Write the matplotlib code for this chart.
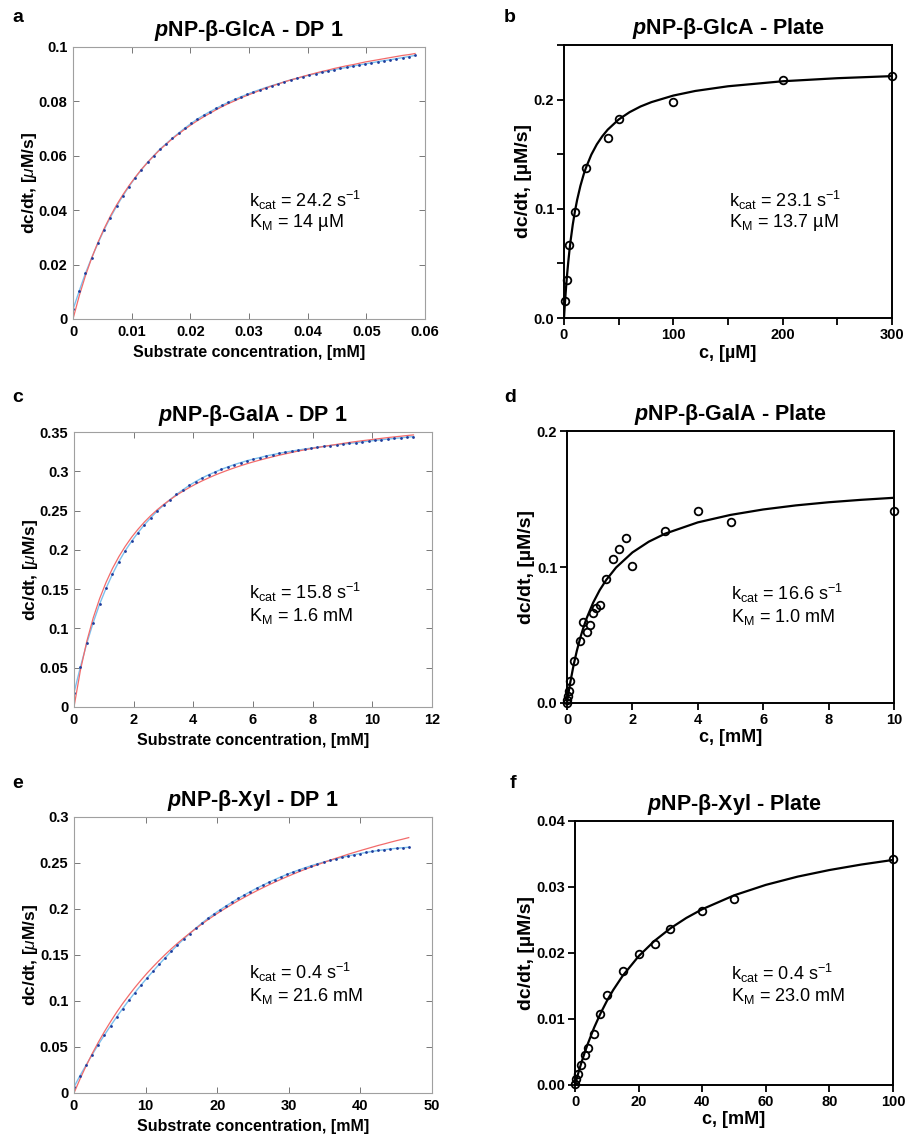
#!/usr/bin/env python3

import matplotlib
matplotlib.use("Agg")
import matplotlib.pyplot as plt
from matplotlib.ticker import FixedLocator, FuncFormatter


# fonts: Arial-like everywhere, custom mathtext so subscripts stay in the same face
plt.rcParams['font.family'] = ['Liberation Sans', 'DejaVu Sans']
plt.rcParams['mathtext.fontset'] = 'custom'
plt.rcParams['mathtext.rm'] = 'Liberation Sans'
plt.rcParams['mathtext.it'] = 'Liberation Sans:italic'
plt.rcParams['mathtext.bf'] = 'Liberation Sans:bold'
plt.rcParams['mathtext.bfit'] = 'Liberation Sans:bold:italic'


""" Data read off the figure """
# a : pNP-b-GlcA, DP 1 (progress-curve derived rates + MM fit)
a_conc = [0, 0.00106, 0.00212, 0.00318, 0.00424, 0.0053, 0.00636, 0.00742, 0.00848, 0.00954,
          0.0106, 0.01166, 0.01272, 0.01378, 0.01484, 0.0159, 0.01696, 0.01802, 0.01908, 0.02014,
          0.0212, 0.02226, 0.02332, 0.02438, 0.02544, 0.0265, 0.02756, 0.02862, 0.02968, 0.03074,
          0.0318, 0.03286, 0.03392, 0.03498, 0.03604, 0.0371, 0.03816, 0.03922, 0.04028, 0.04134,
          0.0424, 0.04346, 0.04452, 0.04558, 0.04664, 0.0477, 0.04876, 0.04982, 0.05088, 0.05194,
          0.053, 0.05406, 0.05512, 0.05618, 0.05724, 0.0583]
a_rate = [0.0035, 0.0103, 0.0168, 0.0225, 0.0278, 0.0328, 0.0373, 0.0414, 0.0452, 0.0487,
          0.0519, 0.0549, 0.0576, 0.0601, 0.0625, 0.0645, 0.0665, 0.0684, 0.0702, 0.0719,
          0.0735, 0.0749, 0.0762, 0.0774, 0.0786, 0.0797, 0.0807, 0.0817, 0.0826, 0.0835,
          0.0843, 0.0851, 0.0858, 0.0865, 0.0872, 0.0879, 0.0885, 0.0891, 0.0897, 0.0902,
          0.0907, 0.0912, 0.0917, 0.0921, 0.0925, 0.0930, 0.0934, 0.0938, 0.0942, 0.0946,
          0.0950, 0.0953, 0.0957, 0.0961, 0.0965, 0.0969]
a_fit  = [0, 0.0085, 0.0159, 0.0224, 0.0281, 0.0332, 0.0378, 0.0419, 0.0456, 0.0490,
          0.0521, 0.0550, 0.0576, 0.0600, 0.0623, 0.0643, 0.0663, 0.0681, 0.0698, 0.0714,
          0.0729, 0.0743, 0.0756, 0.0769, 0.0781, 0.0792, 0.0802, 0.0813, 0.0822, 0.0831,
          0.0840, 0.0849, 0.0857, 0.0864, 0.0872, 0.0879, 0.0885, 0.0892, 0.0898, 0.0904,
          0.0910, 0.0915, 0.0921, 0.0926, 0.0931, 0.0935, 0.0940, 0.0945, 0.0949, 0.0953,
          0.0957, 0.0961, 0.0965, 0.0969, 0.0972, 0.0976]

# b : pNP-b-GlcA, plate assay
b_conc = [1, 2.5, 5, 10, 20, 40, 50, 100, 200, 300]
b_rate = [0.0159, 0.0352, 0.0667, 0.0970, 0.1373, 0.1645, 0.1820, 0.1980, 0.2177, 0.2214]
b_fit_conc = [0, 0.5, 1, 2, 3, 4, 5, 6, 8, 10, 12, 15, 18, 20, 25, 30, 35, 40, 50, 60,
              70, 80, 100, 120, 150, 200, 250, 300]
b_fit = [0, 0.0082, 0.0158, 0.0295, 0.0416, 0.0523, 0.0619, 0.0705, 0.0854, 0.0977,
         0.1081, 0.1210, 0.1315, 0.1374, 0.1496, 0.1590, 0.1664, 0.1725, 0.1818, 0.1885,
         0.1937, 0.1977, 0.2037, 0.2079, 0.2122, 0.2168, 0.2196, 0.2215]

# c : pNP-b-GalA, DP 1
c_conc = [0, 0.215, 0.429, 0.644, 0.859, 1.074, 1.288, 1.503, 1.718, 1.932,
          2.147, 2.362, 2.576, 2.791, 3.006, 3.221, 3.435, 3.650, 3.865, 4.079,
          4.294, 4.509, 4.723, 4.938, 5.153, 5.368, 5.582, 5.797, 6.012, 6.226,
          6.441, 6.656, 6.870, 7.085, 7.300, 7.515, 7.729, 7.944, 8.159, 8.373,
          8.588, 8.803, 9.017, 9.232, 9.447, 9.662, 9.876, 10.091, 10.306, 10.520,
          10.735, 10.950, 11.164, 11.379]
c_rate = [0.018, 0.051, 0.081, 0.1075, 0.131, 0.151, 0.169, 0.185, 0.199, 0.211,
          0.222, 0.232, 0.241, 0.2495, 0.257, 0.264, 0.2705, 0.2765, 0.282, 0.287,
          0.2915, 0.2955, 0.299, 0.3025, 0.3055, 0.3085, 0.311, 0.3135, 0.3155, 0.3175,
          0.3195, 0.3212, 0.3228, 0.3243, 0.3257, 0.327, 0.3283, 0.3295, 0.3306, 0.3317,
          0.3327, 0.3337, 0.3346, 0.3355, 0.3364, 0.3375, 0.3384, 0.3393, 0.3402, 0.341,
          0.3418, 0.3426, 0.3434, 0.3442]
c_fit  = [0, 0.0467, 0.0836, 0.1134, 0.1380, 0.1586, 0.1762, 0.1913, 0.2045, 0.2161,
          0.2263, 0.2355, 0.2437, 0.2511, 0.2578, 0.2639, 0.2695, 0.2746, 0.2793, 0.2837,
          0.2878, 0.2915, 0.2951, 0.2983, 0.3014, 0.3043, 0.3070, 0.3096, 0.3120, 0.3142,
          0.3164, 0.3184, 0.3204, 0.3222, 0.3240, 0.3257, 0.3273, 0.3288, 0.3302, 0.3316,
          0.3330, 0.3342, 0.3355, 0.3367, 0.3378, 0.3389, 0.3399, 0.3409, 0.3419, 0.3429,
          0.3438, 0.3446, 0.3455, 0.3463]

# d : pNP-b-GalA, plate assay
d_conc = [0, 0.01, 0.025, 0.05, 0.1, 0.2, 0.4, 0.5, 0.6, 0.7, 0.8, 0.9, 1.0,
          1.2, 1.4, 1.6, 1.8, 2.0, 3, 4, 5, 10]
d_rate = [0, 0.002, 0.005, 0.0085, 0.016, 0.031, 0.0456, 0.0596, 0.052, 0.057, 0.066,
          0.0695, 0.072, 0.0912, 0.1056, 0.1134, 0.1213, 0.1005, 0.1264, 0.1413, 0.1328, 0.1413]
d_fit_conc = [0, 0.05, 0.1, 0.2, 0.3, 0.4, 0.5, 0.6, 0.8, 1.0, 1.2, 1.5, 2, 2.5, 3,
              4, 5, 6, 7, 8, 9, 10]
d_fit = [0, 0.0079, 0.0151, 0.0277, 0.0383, 0.0474, 0.0553, 0.0623, 0.0738, 0.0830,
         0.0905, 0.0996, 0.1107, 0.1186, 0.1245, 0.1328, 0.1383, 0.1423, 0.1453, 0.1476,
         0.1494, 0.1509]

# e : pNP-b-Xyl, DP 1
e_conc = [0, 0.85, 1.7, 2.55, 3.4, 4.25, 5.1, 5.95, 6.8, 7.65,
          8.5, 9.35, 10.2, 11.05, 11.9, 12.75, 13.6, 14.45, 15.3, 16.15,
          17.0, 17.85, 18.7, 19.55, 20.4, 21.25, 22.1, 22.95, 23.8, 24.65,
          25.5, 26.35, 27.2, 28.05, 28.9, 29.75, 30.6, 31.45, 32.3, 33.15,
          34.0, 34.85, 35.7, 36.55, 37.4, 38.25, 39.1, 39.95, 40.8, 41.65,
          42.5, 43.35, 44.2, 45.05, 45.9, 46.75]
e_rate = [0.0065, 0.0190, 0.0305, 0.0418, 0.0527, 0.0630, 0.0730, 0.0826, 0.0918, 0.1006,
          0.1091, 0.1172, 0.1250, 0.1325, 0.1399, 0.1471, 0.1541, 0.1608, 0.1672, 0.1733,
          0.1791, 0.1846, 0.1898, 0.1946, 0.1991, 0.2034, 0.2075, 0.2115, 0.2153, 0.2190,
          0.2225, 0.2258, 0.2290, 0.2320, 0.2349, 0.2376, 0.2402, 0.2426, 0.2449, 0.2471,
          0.2491, 0.2510, 0.2528, 0.2545, 0.2561, 0.2576, 0.2590, 0.2603, 0.2615, 0.2626,
          0.2636, 0.2645, 0.2653, 0.2660, 0.2666, 0.2671]
e_fit  = [0, 0.0154, 0.0296, 0.0429, 0.0552, 0.0667, 0.0775, 0.0877, 0.0972, 0.1061,
          0.1146, 0.1226, 0.1302, 0.1373, 0.1441, 0.1506, 0.1568, 0.1627, 0.1683, 0.1736,
          0.1787, 0.1836, 0.1883, 0.1928, 0.1971, 0.2012, 0.2052, 0.2091, 0.2127, 0.2163,
          0.2197, 0.2230, 0.2262, 0.2293, 0.2322, 0.2351, 0.2379, 0.2406, 0.2432, 0.2457,
          0.2481, 0.2505, 0.2528, 0.2551, 0.2572, 0.2594, 0.2614, 0.2634, 0.2653, 0.2672,
          0.2691, 0.2708, 0.2726, 0.2743, 0.2759, 0.2776]

# f : pNP-b-Xyl, plate assay
f_conc = [0, 0.25, 1, 2, 3, 4, 6, 8, 10, 15, 20, 25, 30, 40, 50, 100]
f_rate = [0.0002, 0.0009, 0.0017, 0.0031, 0.0045, 0.0056, 0.0078, 0.0108, 0.0136, 0.0173,
          0.0198, 0.0214, 0.0236, 0.0264, 0.0282, 0.0342]
f_fit_conc = [0, 1, 2, 3, 4, 6, 8, 10, 12, 15, 20, 25, 30, 35, 40, 50, 60, 70, 80, 90, 100]
f_fit = [0, 0.00175, 0.00336, 0.00484, 0.00621, 0.00868, 0.01082, 0.01271, 0.01438, 0.01655,
         0.01951, 0.02184, 0.02374, 0.02531, 0.02663, 0.02873, 0.03032, 0.03157, 0.03257,
         0.03340, 0.0341]

# text
titles = ['GlcA - DP 1', 'GlcA - Plate', 'GalA - DP 1', 'GalA - Plate', 'Xyl - DP 1', 'Xyl - Plate']
letters = ['a', 'b', 'c', 'd', 'e', 'f']
kcat_txt = ['24.2', '23.1', '15.8', '16.6', '0.4', '0.4']
km_txt = ['14 µM', '13.7 µM', '1.6 mM', '1.0 mM', '21.6 mM', '23.0 mM']


""" Layout helpers (pixel boxes on a 907x1140 canvas) """
W, H = 907, 1140

def px_axes(fig, l, t, r, b):
  return fig.add_axes([l / W, 1 - b / H, (r - l) / W, (b - t) / H])


def matlab_style(ax, xmax, xstep, ymax, ystep):
  for s in ax.spines.values():
    s.set_color('#a0a0a0')
    s.set_linewidth(0.8)
  ax.set_xlim(0, xmax)
  ax.set_ylim(0, ymax)
  nx = int(round(xmax / xstep))
  ny = int(round(ymax / ystep))
  ax.xaxis.set_major_locator(FixedLocator([i * xstep for i in range(nx + 1)]))
  ax.yaxis.set_major_locator(FixedLocator([i * ystep for i in range(ny + 1)]))
  fmt = FuncFormatter(lambda v, p: '%g' % round(v, 6))
  ax.xaxis.set_major_formatter(fmt)
  ax.yaxis.set_major_formatter(fmt)
  ax.tick_params(direction='in', length=4, width=0.7, color='#777777',
                 top=True, right=True, labelsize=10.5, pad=4)
  for lbl in ax.get_xticklabels() + ax.get_yticklabels():
    lbl.set_fontweight('bold')


def prism_style(ax, xmax, xticks, xlabels, ymax, yticks, ylabels):
  for s in ax.spines.values():
    s.set_color('black')
    s.set_linewidth(1.4)
  ax.set_xlim(0, xmax)
  ax.set_ylim(0, ymax)
  ax.set_xticks(xticks)
  ax.set_xticklabels(xlabels, fontweight='bold')
  ax.set_yticks(yticks)
  ax.set_yticklabels(ylabels, fontweight='bold')
  ax.tick_params(direction='out', length=5, width=1.3, color='black',
                 labelsize=10.5, pad=2)


def ann(ax, fx, fy1, fy2, kcat, km):
  ax.text(fx, fy1, r'k$_\mathregular{cat}$ = ' + kcat + r' s$^\mathregular{-1}$',
          transform=ax.transAxes, fontsize=13, va='center', ha='left')
  ax.text(fx, fy2, r'K$_\mathregular{M}$ = ' + km,
          transform=ax.transAxes, fontsize=13, va='center', ha='left')


def title(ax, s, pad):
  ax.set_title(r'$\mathbfit{p}$' + 'NP-β-' + s, fontsize=15.5, fontweight='bold', pad=pad)


""" Plot """
fig = plt.figure(figsize=(W / 100, H / 100), dpi=100)

# MATLAB style panels (a, c, e)
dp_panels = [
  ((73, 47, 425, 319), a_conc, a_rate, a_fit, 0.06, 0.01, 0.1, 0.02, 0),
  ((74, 432, 432, 707), c_conc, c_rate, c_fit, 12, 2, 0.35, 0.05, 2),
  ((74, 817, 432, 1093), e_conc, e_rate, e_fit, 50, 10, 0.3, 0.05, 4),
]
ann_dp = [(0.5, 0.437, 0.353), (0.489, 0.418, 0.331), (0.489, 0.438, 0.351)]
for i, (box, xc, yr, yf, xmax, xs, ymax, ys, k) in enumerate(dp_panels):
  ax = px_axes(fig, *box)
  ax.plot(xc, yr, '-', color='#7cc0ee', lw=1.0)
  ax.plot(xc, yf, '-', color='#f26b6b', lw=0.9)
  ax.plot(xc, yr, 'o', color='#1f3c9c', ms=2.0, mew=0)
  matlab_style(ax, xmax, xs, ymax, ys)
  ax.set_xlabel('Substrate concentration, [mM]', fontsize=11.5, fontweight='bold', labelpad=5)
  ax.set_ylabel(r'dc/dt, [$\mu$M/s]', fontsize=12.5, fontweight='bold', labelpad=0)
  title(ax, titles[k], 8)
  ann(ax, *ann_dp[i], kcat_txt[k], km_txt[k])

# Prism style panels (b, d, f)
ax = px_axes(fig, 564, 45, 892, 318)
ax.plot(b_fit_conc, b_fit, '-', color='black', lw=1.6)
ax.plot(b_conc, b_rate, 'o', mfc='none', mec='black', mew=1.3, ms=5.5, clip_on=False)
prism_style(ax, 300, [0, 50, 100, 150, 200, 250, 300], ['0', '', '100', '', '200', '', '300'],
            0.25, [0, 0.05, 0.1, 0.15, 0.2, 0.25], ['0.0', '', '0.1', '', '0.2', ''])
ax.set_xlabel('c, [µM]', fontsize=13, fontweight='bold', labelpad=2)
ax.set_ylabel('dc/dt, [µM/s]', fontsize=14, fontweight='bold', labelpad=1)
title(ax, titles[1], 8)
ann(ax, 0.503, 0.432, 0.348, kcat_txt[1], km_txt[1])

ax = px_axes(fig, 567, 431, 894, 703)
ax.plot(d_fit_conc, d_fit, '-', color='black', lw=1.6)
ax.plot(d_conc, d_rate, 'o', mfc='none', mec='black', mew=1.3, ms=5.5, clip_on=False)
prism_style(ax, 10, [0, 2, 4, 6, 8, 10], ['0', '2', '4', '6', '8', '10'],
            0.2, [0, 0.1, 0.2], ['0.0', '0.1', '0.2'])
ax.set_xlabel('c, [mM]', fontsize=13, fontweight='bold', labelpad=2)
ax.set_ylabel('dc/dt, [µM/s]', fontsize=14, fontweight='bold', labelpad=1)
title(ax, titles[3], 8)
ann(ax, 0.502, 0.404, 0.316, kcat_txt[3], km_txt[3])

ax = px_axes(fig, 575, 821, 893, 1085)
ax.plot(f_fit_conc, f_fit, '-', color='black', lw=1.6)
ax.plot(f_conc, f_rate, 'o', mfc='none', mec='black', mew=1.3, ms=5.5, clip_on=False)
prism_style(ax, 100, [0, 20, 40, 60, 80, 100], ['0', '20', '40', '60', '80', '100'],
            0.04, [0, 0.01, 0.02, 0.03, 0.04], ['0.00', '0.01', '0.02', '0.03', '0.04'])
ax.set_xlabel('c, [mM]', fontsize=13, fontweight='bold', labelpad=2)
ax.set_ylabel('dc/dt, [µM/s]', fontsize=14, fontweight='bold', labelpad=1)
title(ax, titles[5], 8)
ann(ax, 0.49, 0.424, 0.337, kcat_txt[5], km_txt[5])

# panel letters
letter_pos = [(18, 18), (510, 18), (18, 398), (510, 398), (18, 783), (513, 783)]
for L, (x, y) in zip(letters, letter_pos):
  fig.text(x / W, 1 - y / H, L, fontsize=14, fontweight='bold', ha='center', va='center')

fig.savefig('out.png', dpi=100)
